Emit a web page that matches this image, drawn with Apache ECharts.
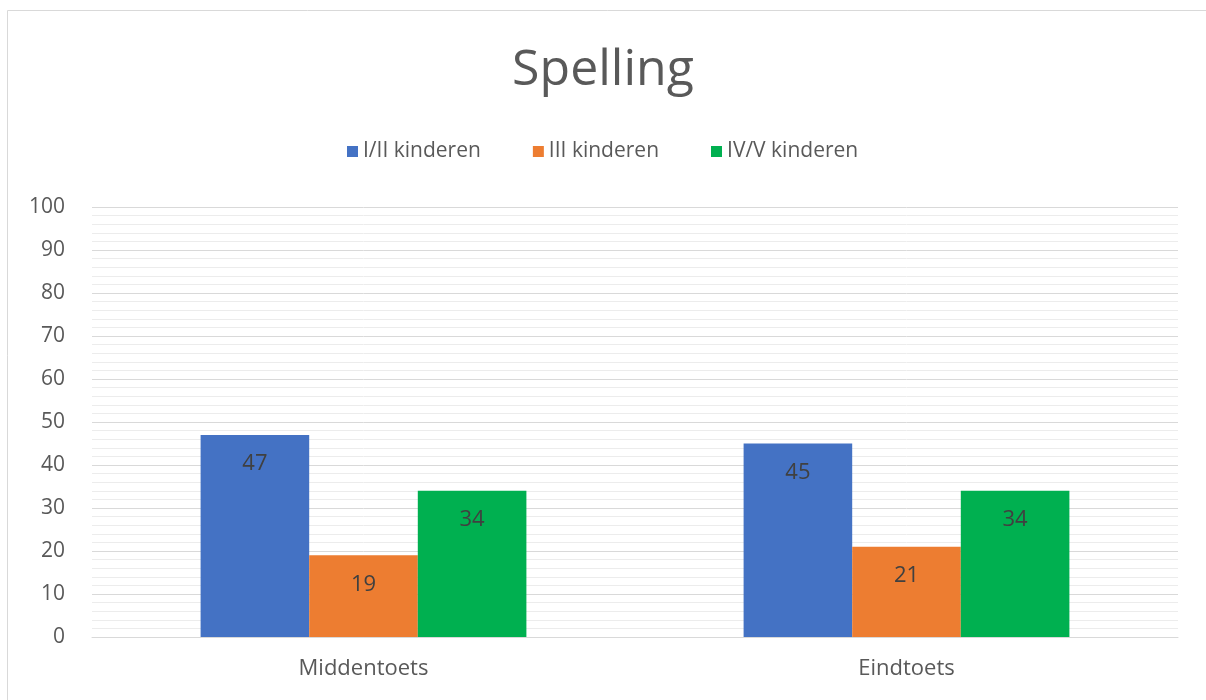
<!DOCTYPE html>
<html><head><meta charset="utf-8">
<script src="https://cdn.jsdelivr.net/npm/echarts@6/dist/echarts.min.js"></script>
<style>html,body{margin:0;padding:0;background:#fff}#c{width:1206px;height:700px}</style>
</head><body><div id="c"></div>
<script>
const categories = ['Middentoets', 'Eindtoets'];
const seriesNames = ['I/II kinderen', 'III kinderen', 'IV/V kinderen'];
const valuesI = [47, 45];
const valuesIII = [19, 21];
const valuesIV = [34, 34];
const colors = ['#4472C4', '#ED7D31', '#00B050'];
const font = 'Open Sans, Noto Sans, sans-serif';
const chart = echarts.init(document.getElementById('c'));
const mk = (name, data, color) => ({
  name, type: 'bar', data, barGap: '0%', barCategoryGap: '40%',
  itemStyle: { color },
  label: { show: true, position: 'insideTop', distance: 18, color: '#404040', fontSize: 22, fontFamily: font }
});
chart.setOption({
  animation: false,
  graphic: [{ type: 'rect', shape: { x: 7.5, y: 10.5, width: 1220, height: 720 }, style: { fill: 'none', stroke: '#d9d9d9', lineWidth: 1 } }],
  title: { text: 'Spelling', left: 'center', top: 41, textStyle: { fontFamily: font, fontSize: 50, fontWeight: 'normal', color: '#595959' } },
  legend: { top: 136, left: 342, itemWidth: 11, itemHeight: 11, itemGap: 52, icon: 'rect',
    textStyle: { fontFamily: font, fontSize: 21, color: '#595959' }, data: seriesNames },
  grid: { left: 92, right: 28, top: 207, bottom: 63 },
  xAxis: { type: 'category', data: categories,
    axisLine: { lineStyle: { color: '#d9d9d9' } }, axisTick: { show: false },
    axisLabel: { fontFamily: font, fontSize: 22, color: '#595959', margin: 21 } },
  yAxis: { type: 'value', min: 0, max: 100, interval: 10,
    axisLine: { show: false }, axisTick: { show: false },
    axisLabel: { fontFamily: font, fontSize: 21, color: '#595959', margin: 27 },
    splitLine: { lineStyle: { color: '#d9d9d9' } },
    minorTick: { show: false, splitNumber: 5 },
    minorSplitLine: { show: true, lineStyle: { color: '#ececec' } } },
  series: [mk(seriesNames[0], valuesI, colors[0]), mk(seriesNames[1], valuesIII, colors[1]), mk(seriesNames[2], valuesIV, colors[2])]
});
</script></body></html>
